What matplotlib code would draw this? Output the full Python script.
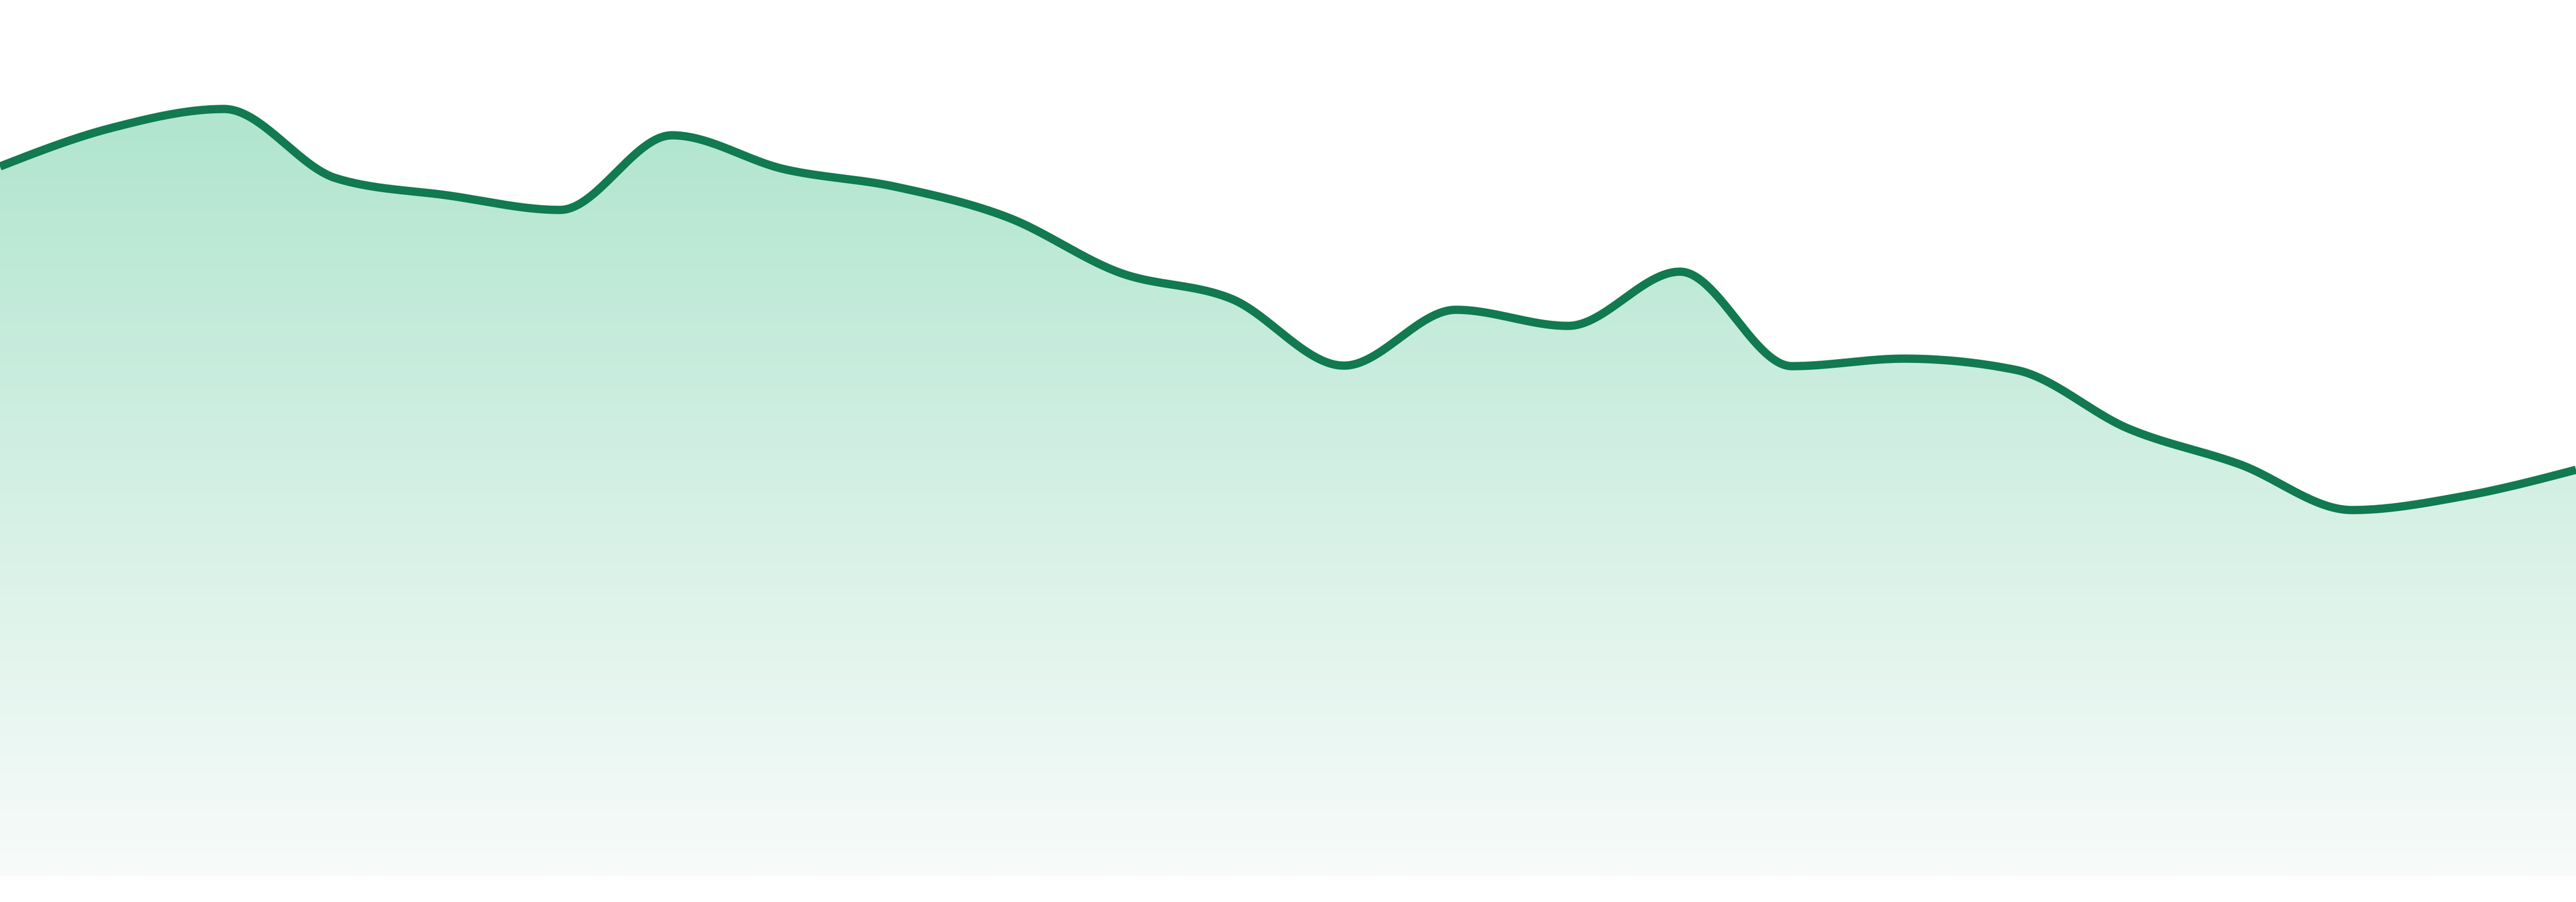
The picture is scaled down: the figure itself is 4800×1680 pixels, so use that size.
import numpy as np
import matplotlib
matplotlib.use("Agg")
import matplotlib.pyplot as plt
from matplotlib.colors import to_rgb

# ---- data ----
points = list(range(24))
values = [1322, 1394, 1429, 1300, 1268, 1241, 1380, 1317, 1284, 1227, 1124, 1075,
          951, 1055, 1025, 1126, 950, 964, 943, 834, 767, 682, 708, 757]

line_color = "#117a50"
grad_top = "#b0e5cf"
grad_bottom = "#f8fbfa"


def monotone_x(x, y, n=60):
    """d3.curveMonotoneX style interpolation."""
    x = np.asarray(x, float)
    y = np.asarray(y, float)
    m = len(x)
    h = np.diff(x)
    s = np.diff(y) / h
    t = np.zeros(m)
    for i in range(1, m - 1):
        h0, h1 = h[i - 1], h[i]
        s0, s1 = s[i - 1], s[i]
        p = (s0 * h1 + s1 * h0) / (h0 + h1)
        t[i] = (np.sign(s0) + np.sign(s1)) * min(abs(s0), abs(s1), 0.5 * abs(p))
    t[0] = (3 * s[0] - t[1]) / 2
    t[-1] = (3 * s[-1] - t[-2]) / 2
    xs, ys = [], []
    for i in range(m - 1):
        u = np.linspace(0, 1, n, endpoint=(i == m - 2))
        dx = h[i]
        h00 = 2 * u**3 - 3 * u**2 + 1
        h10 = u**3 - 2 * u**2 + u
        h01 = -2 * u**3 + 3 * u**2
        h11 = u**3 - u**2
        xs.append(x[i] + u * dx)
        ys.append(h00 * y[i] + h10 * dx * t[i] + h01 * y[i + 1] + h11 * dx * t[i + 1])
    return np.concatenate(xs), np.concatenate(ys)


xs, ys = monotone_x(points, values)

fig = plt.figure(figsize=(16, 5.6), dpi=300)
ax = fig.add_axes([0, 0, 1, 1])
ax.set_xlim(points[0], points[-1])
ax.set_ylim(-48, 1632)
ax.axis("off")

poly = ax.fill_between(xs, 0, ys, color="none", linewidth=0)

c_top = np.array(to_rgb(grad_top))
c_bot = np.array(to_rgb(grad_bottom))
frac = np.linspace(0, 1, 512)[:, None]
grad = (c_top * (1 - frac) + c_bot * frac)[:, None, :]
im = ax.imshow(grad, extent=[points[0], points[-1], 0, 1432], aspect="auto",
               origin="upper", interpolation="bilinear", zorder=1)
clip = poly.get_paths()[0]
im.set_clip_path(clip, transform=ax.transData)

ax.plot(xs, ys, color=line_color, linewidth=3.7, solid_capstyle="butt", zorder=3)

fig.savefig("out.png", dpi=300, facecolor="white")
